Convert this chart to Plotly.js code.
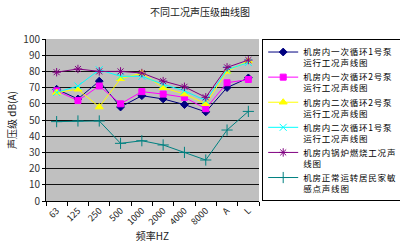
<!DOCTYPE html>
<html><head><meta charset="utf-8">
<script src="https://cdn.plot.ly/plotly-3.0.1.min.js"></script>
<style>html,body{margin:0;padding:0;background:#fff}#chart{width:400px;height:252px}
.legendtext{letter-spacing:0.8px}</style>
</head><body><div id="chart"></div>
<script>
const categories = ["63","125","250","500","1000","2000","4000","8000","A","L"];
const seriesNames = [
  "机房内一次循环1号泵<br>运行工况声线图",
  "机房内一次循环2号泵<br>运行工况声线图",
  "机房内二次循环2号泵<br>运行工况声线图",
  "机房内二次循环1号泵<br>运行工况声线图",
  "机房内锅炉燃烧工况声<br>线图",
  "机房正常运转居民家敏<br>感点声线图"
];
const pump1Primary   = [69, 63, 74, 58, 65, 63, 59.5, 55, 70, 76];
const pump2Primary   = [68, 62, 71, 60, 67.5, 66, 64, 57, 73, 75];
const pump2Secondary = [67, 69, 58, 75.5, 79, 70, 66, 60, 80, 86.5];
const pump1Secondary = [67, 71, 81, 77, 77, 72, 68, 62, 81, 85.5];
const boiler         = [79.5, 81.5, 80, 80, 79, 74, 70.5, 64, 82.5, 87];
const resident       = [49, 49.4, 49.4, 35.6, 37.2, 34.6, 30, 25.3, 43.8, 55.3];

const values = [pump1Primary, pump2Primary, pump2Secondary, pump1Secondary, boiler, resident];
const colors = ["#000080", "#ff00ff", "#ffff00", "#00ffff", "#800080", "#008080"];
const symbols = ["diamond", "square", "triangle-up", "x-thin-open", "asterisk-open", "cross-thin-open"];
const sizes = [6, 6, 7, 7, 7, 8];

const traces = values.map((v, i) => ({
  x: categories, y: v, name: seriesNames[i], type: "scatter", mode: "lines+markers",
  line: {color: colors[i], width: 1},
  marker: {symbol: symbols[i], size: sizes[i], color: colors[i], line: {color: colors[i], width: 1}}
}));

const font = "'Noto Sans CJK SC', 'DejaVu Sans', sans-serif";
const layout = {
  width: 400, height: 252,
  margin: {l: 46, r: 141, t: 39, b: 51, autoexpand: false},
  paper_bgcolor: "#ffffff", plot_bgcolor: "#c0c0c0",
  font: {family: font, size: 10, color: "#000"},
  title: {text: "不同工况声压级曲线图", x: 0.5, xanchor: "center", y: 0.95, yanchor: "middle", font: {size: 10, color: "#222"}},
  xaxis: {
    type: "category", tickson: "boundaries", ticks: "outside", ticklen: 4, tickcolor: "#000",
    tickangle: -45, showgrid: false, showline: true, linecolor: "#000", linewidth: 1,
    tickfont: {size: 9, color: "#222"}, range: [-0.5, 9.5], automargin: false,
    title: {text: "频率HZ", font: {size: 10, color: "#222"}, standoff: 2}
  },
  yaxis: {
    range: [0, 100], dtick: 10, showgrid: true, gridcolor: "#111", gridwidth: 1,
    showline: true, linecolor: "#000", linewidth: 1, ticks: "outside", ticklen: 3, tickcolor: "#000",
    tickfont: {size: 10, color: "#333"}, zeroline: false, automargin: false,
    title: {text: "声压级 dB(A)", font: {size: 10, color: "#222"}, standoff: 4}
  },
  legend: {
    x: 1.015, y: 1, xanchor: "left", yanchor: "top", valign: "top",
    bgcolor: "#ffffff", bordercolor: "#000", borderwidth: 1, itemwidth: 30,
    font: {size: 8.5, color: "#000", family: font}, tracegroupgap: 0
  },
  showlegend: true
};
Plotly.newPlot("chart", traces, layout, {staticPlot: true, displayModeBar: false});
</script></body></html>
